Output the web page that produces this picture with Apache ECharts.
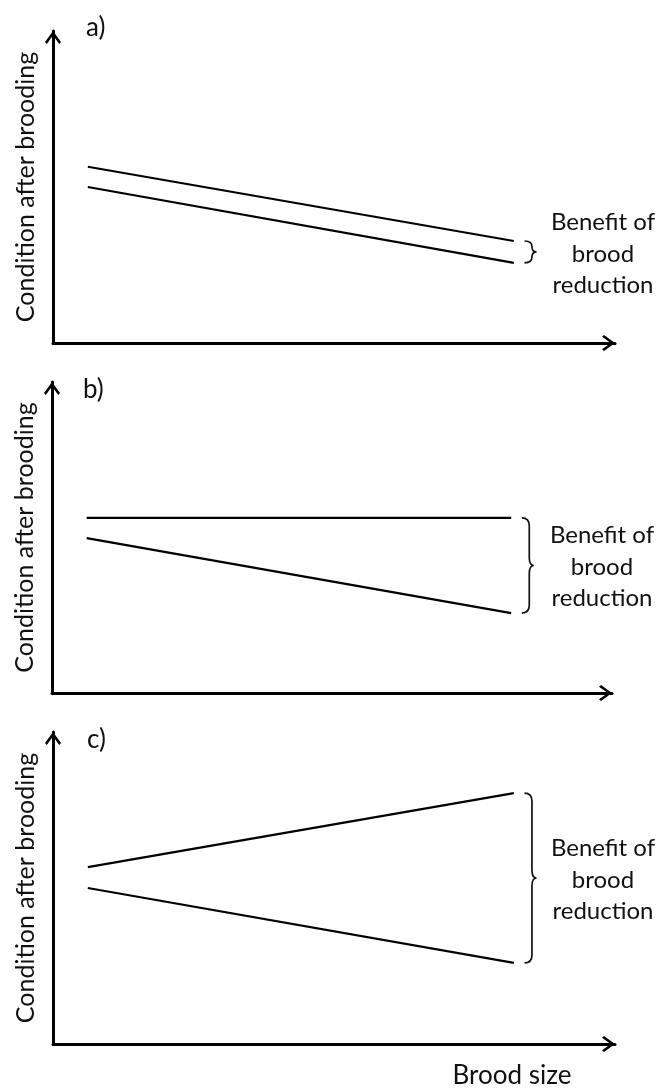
<!DOCTYPE html>
<html><head><meta charset="utf-8">
<script src="https://cdn.jsdelivr.net/npm/echarts@6/dist/echarts.min.js"></script>
<style>html,body{margin:0;padding:0;background:#fff}#c{width:658px;height:1088px}</style>
</head><body><div id="c"></div>
<script>
// ---- data ----
const panelLabels = ['a)', 'b)', 'c)'];
const xPoints = [0.62, 8.2];           // brood size (start, end of lines)
const upperA = [5.65, 3.27];
const lowerA = [5.0, 2.57];
const upperB = [5.63, 5.63];
const lowerB = [4.98, 2.57];
const upperC = [5.67, 8.04];
const lowerC = [5.0, 2.6];
const braceX = 8.39;
const yAxisTitle = 'Condition after brooding';
const xAxisTitle = 'Brood size';
const benefitText = 'Benefit of\nbrood\nreduction';

const uppers = [upperA, upperB, upperC];
const lowers = [lowerA, lowerB, lowerC];

// ---- layout ----
const FONT = 'Lato';
const grids = [
  {left: 53, right: 43, top: 31, height: 312},
  {left: 52, right: 46, top: 382, height: 311},
  {left: 53, right: 43, top: 732, height: 312}
];
const arrowPath = 'path://M8,0 L16,11 L14.2,13 L8,4.2 L1.8,13 L0,11 Z';
const axisLine = {
  show: true, onZero: false,
  symbol: ['none', arrowPath], symbolSize: [16, 13], symbolOffset: [0, -6.5],
  lineStyle: {color: '#000', width: 3}
};

function renderBrace(params, api) {
  const top = api.coord([api.value(0), api.value(1)]);
  const bot = api.coord([api.value(0), api.value(2)]);
  const x0 = top[0], y0 = top[1], y1 = bot[1];
  const w = 12, xs = x0 + w * 0.62, xt = x0 + w;
  const h = y1 - y0, mid = (y0 + y1) / 2;
  const r = Math.min(8, h / 4);
  const d = 'M' + x0 + ',' + y0 + ' Q' + xs + ',' + y0 + ' ' + xs + ',' + (y0 + r) +
    ' L' + xs + ',' + (mid - r) + ' Q' + xs + ',' + mid + ' ' + xt + ',' + mid +
    ' Q' + xs + ',' + mid + ' ' + xs + ',' + (mid + r) +
    ' L' + xs + ',' + (y1 - r) + ' Q' + xs + ',' + y1 + ' ' + x0 + ',' + y1;
  return {type: 'path', shape: {pathData: d}, style: {stroke: '#111', fill: 'none', lineWidth: 1.7}};
}

const xAxes = [], yAxes = [], series = [], graphics = [];
grids.forEach(function (g, i) {
  xAxes.push({
    type: 'value', gridIndex: i, min: 0, max: 10,
    axisLine: axisLine, axisTick: {show: false}, axisLabel: {show: false}, splitLine: {show: false}
  });
  yAxes.push({
    type: 'value', gridIndex: i, min: 0, max: 10,
    name: yAxisTitle, nameLocation: 'middle', nameRotate: 90, nameGap: 15,
    nameTextStyle: {fontFamily: FONT, fontSize: 25, color: '#111'},
    axisLine: axisLine, axisTick: {show: false}, axisLabel: {show: false}, splitLine: {show: false}
  });
  [uppers[i], lowers[i]].forEach(function (vals) {
    series.push({
      type: 'line', xAxisIndex: i, yAxisIndex: i, symbol: 'none', silent: true,
      lineStyle: {color: '#000', width: 2.2},
      data: xPoints.map(function (x, k) { return [x, vals[k]]; })
    });
  });
  series.push({
    type: 'custom', xAxisIndex: i, yAxisIndex: i, clip: false, silent: true,
    renderItem: renderBrace,
    data: [[braceX, uppers[i][1], lowers[i][1]]]
  });
});

const benefitCenters = [[603, 254], [602, 567], [603, 880]];
const labelPos = [[86, 28], [83, 390], [87, 740]];
benefitCenters.forEach(function (p) {
  graphics.push({type: 'text', x: p[0], y: p[1], silent: true,
    style: {text: benefitText, fontFamily: FONT, fontSize: 24, lineHeight: 31.5,
      fill: '#111', align: 'center', verticalAlign: 'middle'}});
});
labelPos.forEach(function (p, i) {
  graphics.push({type: 'text', x: p[0], y: p[1], silent: true,
    style: {text: panelLabels[i], fontFamily: FONT, fontSize: 26,
      fill: '#111', align: 'left', verticalAlign: 'middle'}});
});
graphics.push({type: 'text', x: 512, y: 1076, silent: true,
  style: {text: xAxisTitle, fontFamily: FONT, fontSize: 26, fill: '#111',
    align: 'center', verticalAlign: 'middle'}});

const chart = echarts.init(document.getElementById('c'), null, {renderer: 'canvas'});
chart.setOption({
  animation: false,
  backgroundColor: '#fff',
  grid: grids,
  xAxis: xAxes,
  yAxis: yAxes,
  series: series,
  graphic: graphics
});
</script></body></html>
